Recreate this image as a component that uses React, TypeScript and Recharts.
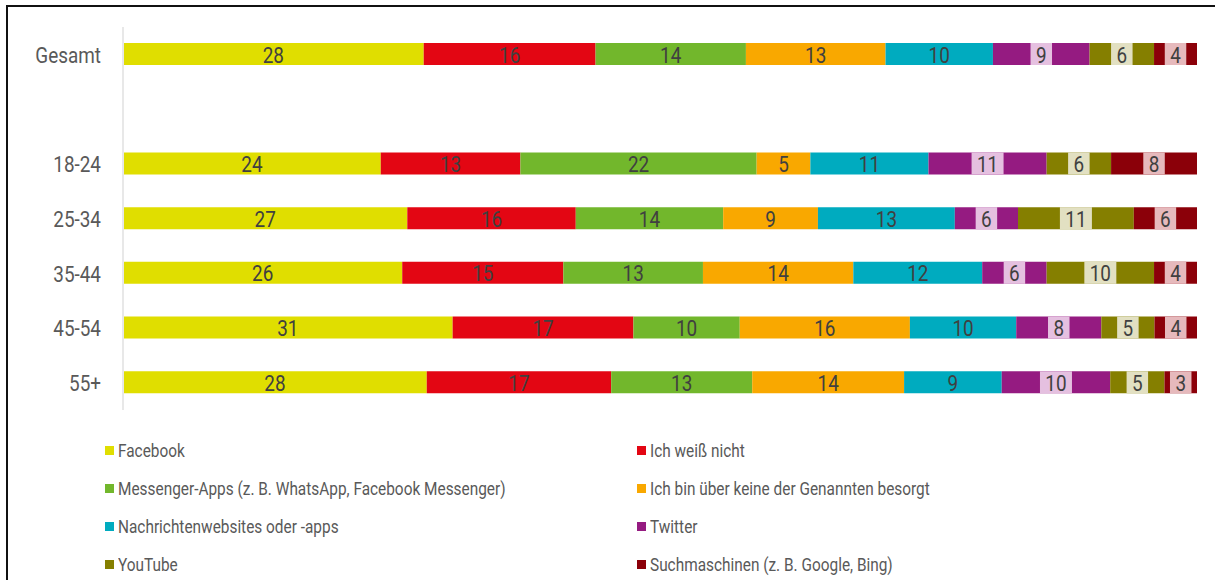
import { Bar, BarChart, LabelList, XAxis, YAxis } from "recharts"

const FONT = "Roboto, 'DejaVu Sans', sans-serif"
const SQUEEZE = 0.86 // the original uses a condensed face, so Roboto gets narrowed
const LEGEND_SQUEEZE = 0.81

// categories (the blank one is the gap row between Gesamt and the age groups)
const categories = ["Gesamt", " ", "18-24", "25-34", "35-44", "45-54", "55+"]

const facebook = [28, null, 24, 27, 26, 31, 28]
const weissNicht = [16, null, 13, 16, 15, 17, 17]
const messenger = [14, null, 22, 14, 13, 10, 13]
const keineBesorgt = [13, null, 5, 9, 14, 16, 14]
const nachrichten = [10, null, 11, 13, 12, 10, 9]
const twitter = [9, null, 11, 6, 6, 8, 10]
const youtube = [6, null, 6, 11, 10, 5, 5]
const suchmaschinen = [4, null, 8, 6, 4, 4, 3]

const series = [
  { key: "facebook", name: "Facebook", color: "#e0de00", values: facebook },
  { key: "weissNicht", name: "Ich weiß nicht", color: "#e30613", values: weissNicht },
  { key: "messenger", name: "Messenger-Apps (z. B. WhatsApp, Facebook Messenger)", color: "#72b72c", values: messenger },
  { key: "keineBesorgt", name: "Ich bin über keine der Genannten besorgt", color: "#f9a800", values: keineBesorgt },
  { key: "nachrichten", name: "Nachrichtenwebsites oder -apps", color: "#00abbf", values: nachrichten },
  { key: "twitter", name: "Twitter", color: "#951b81", values: twitter, box: "#e5c0e0" },
  { key: "youtube", name: "YouTube", color: "#857f00", values: youtube, box: "#e2e0c2" },
  { key: "suchmaschinen", name: "Suchmaschinen (z. B. Google, Bing)", color: "#8b0009", values: suchmaschinen, box: "#e6b9bc" },
]

const data = categories.map((name, i) => {
  const row: any = { name }
  series.forEach((s) => {
    row[s.key] = s.values[i]
  })
  return row
})

function SegmentLabel(props: any) {
  const { x, y, width, height, value, box } = props
  if (value === null || value === undefined) return null
  const cx = x + width / 2
  const cy = y + height / 2
  const txt = String(value)
  const boxW = txt.length * 10.5 + 11
  return (
    <g>
      {box && <rect x={cx - boxW / 2} y={y} width={boxW} height={height} fill={box} />}
      <text
        transform={`translate(${cx},${cy + 1}) scale(${SQUEEZE},1)`}
        textAnchor="middle"
        dominantBaseline="central"
        fill="#404040"
        fontSize={22}
        fontFamily={FONT}
      >
        {txt}
      </text>
    </g>
  )
}

function CategoryTick(props: any) {
  const { x, y, payload } = props
  return (
    <text
      transform={`translate(${x},${y + 1}) scale(${SQUEEZE},1)`}
      textAnchor="end"
      dominantBaseline="central"
      fill="#595959"
      fontSize={22}
      fontFamily={FONT}
    >
      {payload.value}
    </text>
  )
}

export default function App() {
  return (
    <div style={{ position: "absolute", left: 0, top: 0, width: 1215, height: 580, overflow: "hidden", background: "#fff" }}>
      <div
        style={{
          position: "absolute",
          left: 6,
          top: 5,
          width: 1230,
          height: 620,
          border: "2px solid #111",
        }}
      />
      <div style={{ position: "absolute", left: 0, top: 0 }}>
        <BarChart
          width={1215}
          height={420}
          data={data}
          layout="vertical"
          stackOffset="expand"
          barSize={22}
          margin={{ top: 27, right: 18, bottom: 10, left: 0 }}
        >
          <XAxis type="number" hide domain={[0, 1]} />
          <YAxis
            type="category"
            dataKey="name"
            width={123}
            tickLine={false}
            tickMargin={16}
            axisLine={{ stroke: "#e8e8e8", strokeWidth: 2 }}
            tick={<CategoryTick />}
          />
          {series.map((s) => (
            <Bar key={s.key} dataKey={s.key} name={s.name} stackId="a" fill={s.color} isAnimationActive={false}>
              <LabelList dataKey={s.key} content={(p: any) => <SegmentLabel {...p} box={s.box} />} />
            </Bar>
          ))}
        </BarChart>
      </div>
      <div
        style={{
          position: "absolute",
          left: 105,
          top: 431,
          display: "grid",
          gridTemplateColumns: "532px 500px",
          fontFamily: FONT,
          fontSize: 19,
          color: "#595959",
        }}
      >
        {series.map((s) => (
          <div key={s.key} style={{ display: "flex", alignItems: "center", height: 38, whiteSpace: "nowrap" }}>
            <span style={{ width: 9, height: 9, background: s.color, marginRight: 4, display: "inline-block", flex: "none" }} />
            <span style={{ display: "inline-block", transform: `scaleX(${LEGEND_SQUEEZE})`, transformOrigin: "left center" }}>
              {s.name}
            </span>
          </div>
        ))}
      </div>
    </div>
  )
}
